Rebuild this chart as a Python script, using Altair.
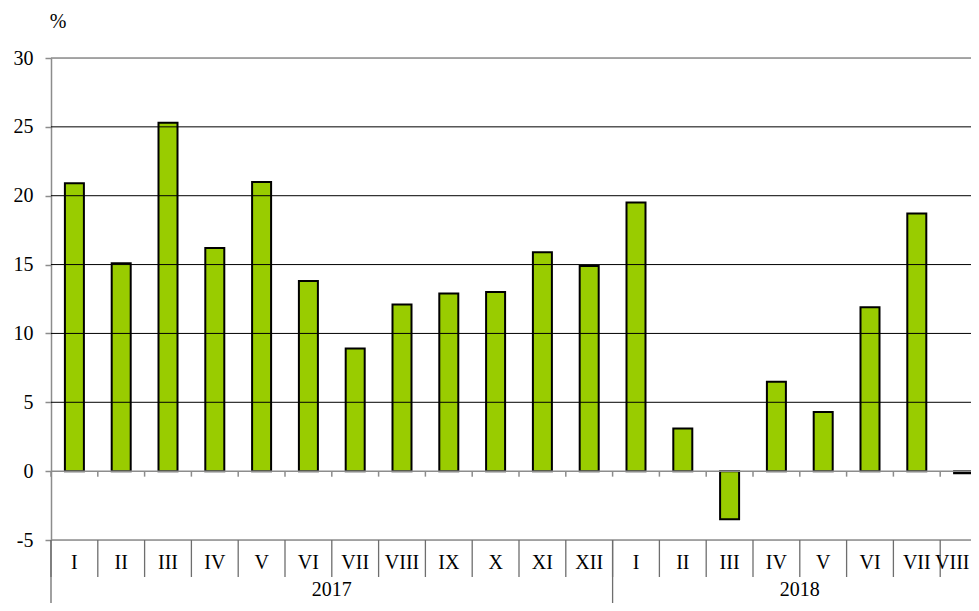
import altair as alt
import pandas as pd

months = ["I", "II", "III", "IV", "V", "VI", "VII", "VIII", "IX", "X", "XI", "XII",
          "I", "II", "III", "IV", "V", "VI", "VII", "VIII"]
years = ["2017"] * 12 + ["2018"] * 8
values = [20.9, 15.1, 25.3, 16.2, 21.0, 13.8, 8.9, 12.1, 12.9, 13.0, 15.9, 14.9,
          19.5, 3.1, -3.5, 6.5, 4.3, 11.9, 18.7, -0.15]
y_ticks = [-5, 0, 5, 10, 15, 20, 25, 30]
dark_grid = [5, 10, 15, 20, 25]
grey_lines = [-5, 0, 30]
year_labels = ["2017", "2018"]
year_first = [0, 12]
year_count = [12, 8]

W, H = 920, 482
STEP = 46.8
XMAX = W / STEP
FONT = "Liberation Serif"

df = pd.DataFrame({"month": months, "year": years, "value": values,
                   "idx": list(range(len(values)))})
bounds = pd.DataFrame({"b": list(range(len(values) + 1))})
ydf = pd.DataFrame({"year": year_labels, "first": year_first, "n": year_count})

xscale = alt.Scale(domain=[0, XMAX], nice=False, zero=False, padding=0)
yscale = alt.Scale(domain=[-5, 30], nice=False, zero=False, padding=0)
yaxis = alt.Axis(values=y_ticks, grid=False, title=None,
                 domainColor="#8c8c8c", domainWidth=1.5,
                 tickColor="#8c8c8c", tickWidth=1.5, tickSize=6,
                 labelFont=FONT, labelFontSize=20, labelColor="black",
                 labelPadding=12, labelExpr="'' + datum.value")

bars = alt.Chart(df).transform_calculate(
    center="datum.idx + 0.5").mark_bar(
    size=19, color="#99cc00", stroke="black", strokeWidth=2).encode(
    x=alt.X("center:Q", scale=xscale, axis=None),
    y=alt.Y("value:Q", scale=yscale, axis=yaxis),
)

dark = alt.Chart(pd.DataFrame({"v": dark_grid})).mark_rule(
    color="black", strokeWidth=1).encode(
    y=alt.Y("v:Q", scale=yscale, axis=yaxis))

grey = alt.Chart(pd.DataFrame({"v": grey_lines})).mark_rule(
    color="#8c8c8c", strokeWidth=1.5).encode(
    y=alt.Y("v:Q", scale=yscale, axis=yaxis))

zero_ticks = alt.Chart(bounds).transform_calculate(
    y0="0", y1="-0.4").mark_rule(color="#8c8c8c", strokeWidth=1.5).encode(
    x=alt.X("b:Q", scale=xscale, axis=None),
    y=alt.Y("y0:Q", scale=yscale, axis=yaxis),
    y2="y1:Q")

cell_seps = alt.Chart(bounds).mark_rule(color="#6e6e6e", strokeWidth=1.3).encode(
    x=alt.X("b:Q", scale=xscale, axis=None),
    y=alt.value(H),
    y2=alt.value(H + 37))

year_seps = alt.Chart(pd.DataFrame({"b": year_first})).mark_rule(
    color="#6e6e6e", strokeWidth=1.3).encode(
    x=alt.X("b:Q", scale=xscale, axis=None),
    y=alt.value(H),
    y2=alt.value(H + 70))

month_text = alt.Chart(df).transform_calculate(
    center=f"min(datum.idx + 0.5, {XMAX} - 0.4)").mark_text(
    font=FONT, fontSize=20, color="black", baseline="middle").encode(
    x=alt.X("center:Q", scale=xscale, axis=None),
    y=alt.value(H + 23),
    text="month:N")

year_text = alt.Chart(ydf).transform_calculate(
    center="datum.first + datum.n / 2").mark_text(
    font=FONT, fontSize=20, color="black", baseline="middle").encode(
    x=alt.X("center:Q", scale=xscale, axis=None),
    y=alt.value(H + 50),
    text="year:N")

pct = alt.Chart(pd.DataFrame({"t": ["%"]})).mark_text(
    font=FONT, fontSize=20, color="black", baseline="middle").encode(
    x=alt.value(7), y=alt.value(-36), text="t:N")

chart = alt.layer(bars, dark, grey, zero_ticks, cell_seps, year_seps,
                  month_text, year_text, pct).properties(
    width=W, height=H,
    autosize=alt.AutoSizeParams(type="none"),
    padding={"left": 43, "top": 50, "right": 0, "bottom": 63},
).configure_view(stroke=None).configure(background="white")

chart.save("out.html", embed_options={"renderer": "svg", "actions": False})
